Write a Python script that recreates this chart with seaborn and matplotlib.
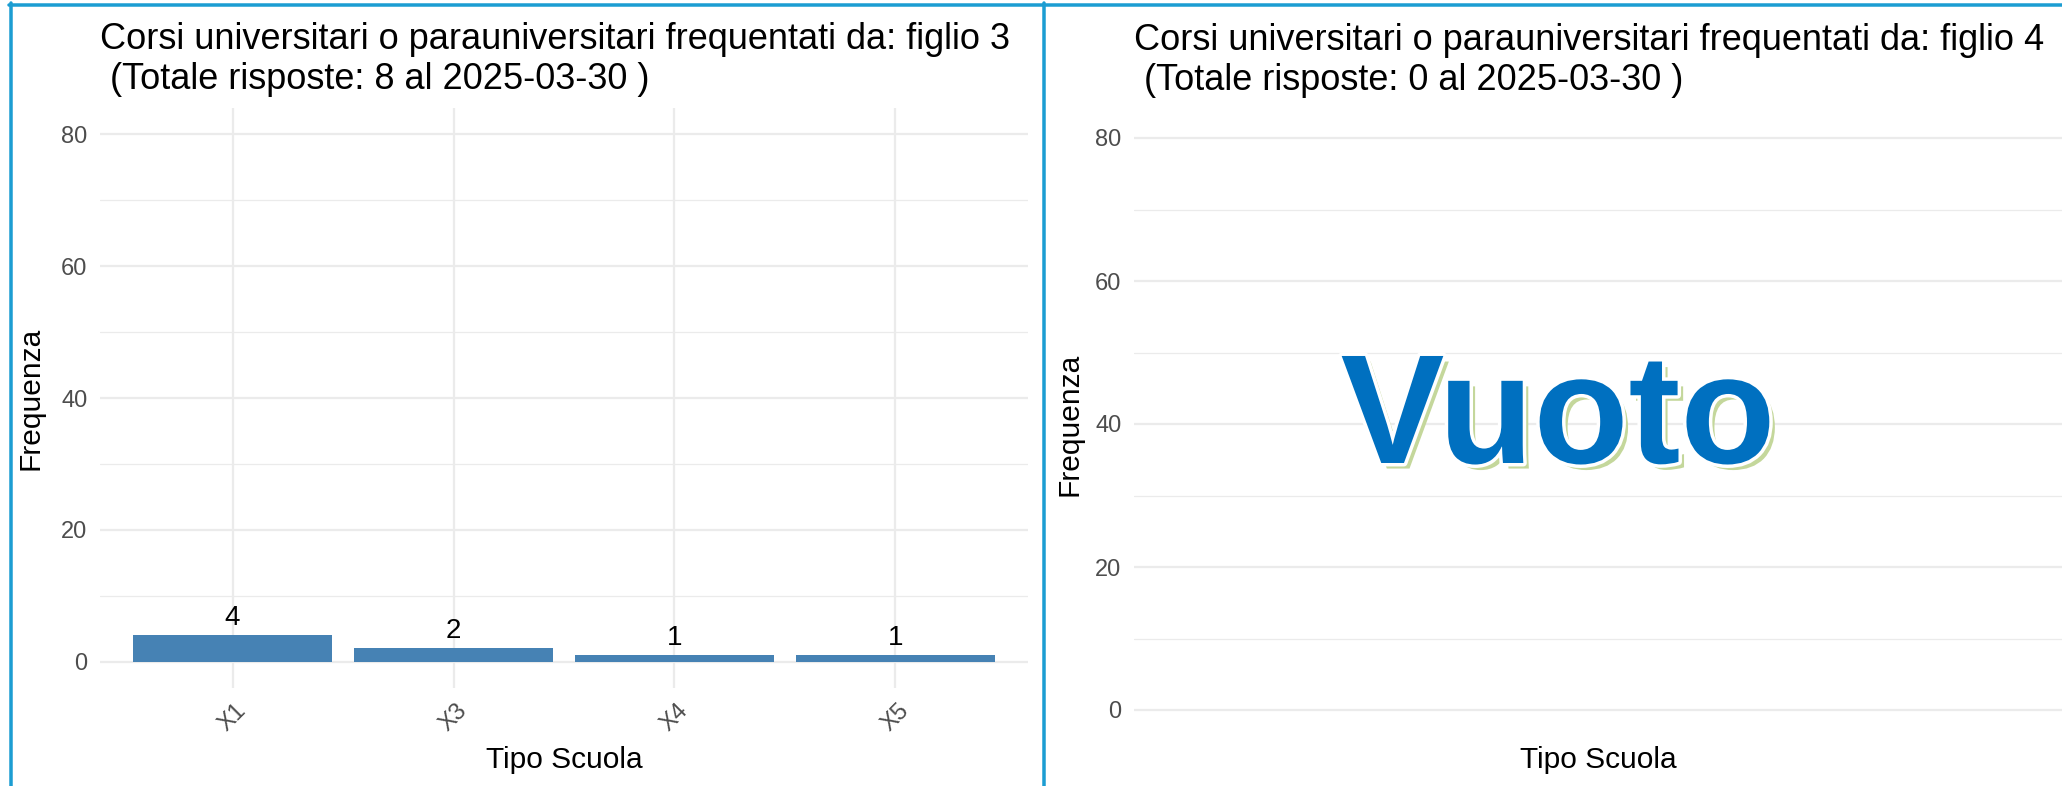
import matplotlib
matplotlib.use('Agg')
import matplotlib.pyplot as plt
import matplotlib.patheffects as pe
from matplotlib.lines import Line2D
from matplotlib.ticker import FixedLocator, MultipleLocator
import seaborn as sns
import pandas as pd

# ---- data ----
categories = ['X1', 'X3', 'X4', 'X5']
counts = [4, 2, 1, 1]
y_ticks = [0, 20, 40, 60, 80]
title_left = "Corsi universitari o parauniversitari frequentati da: figlio 3\n (Totale risposte: 8 al 2025-03-30 )"
title_right = "Corsi universitari o parauniversitari frequentati da: figlio 4\n (Totale risposte: 0 al 2025-03-30 )"
x_label = "Tipo Scuola"
y_label = "Frequenza"
empty_text = "Vuoto"

sns.set_theme(style='white')
plt.rcParams['font.family'] = ['Liberation Sans', 'DejaVu Sans']

W, H = 2062, 786
fig = plt.figure(figsize=(W / 100, H / 100), dpi=100)
fig.patch.set_facecolor('white')


def px_axes(x0, x1, ytop, ybot):
    return fig.add_axes([x0 / W, 1 - ybot / H, (x1 - x0) / W, (ybot - ytop) / H])


axL = px_axes(100, 1028, 108, 688)
axR = px_axes(1134, 2062, 109.4, 738.6)

GRID = '#EBEBEB'
TICK = '#4D4D4D'


def style(ax):
    ax.set_facecolor('white')
    ax.set_ylim(-4, 84)
    ax.yaxis.set_major_locator(FixedLocator(y_ticks))
    ax.yaxis.set_minor_locator(MultipleLocator(10))
    ax.grid(which='major', axis='y', color=GRID, lw=1.6)
    ax.grid(which='minor', axis='y', color=GRID, lw=0.9)
    for s in ax.spines.values():
        s.set_visible(False)
    ax.tick_params(axis='both', which='both', length=0)
    ax.tick_params(axis='y', labelsize=17, labelcolor=TICK, pad=9)
    ax.set_axisbelow(True)


# ---- left panel ----
df = pd.DataFrame({x_label: categories, y_label: counts})
sns.barplot(data=df, x=x_label, y=y_label, order=categories, color='#4682B4',
            saturation=1, width=0.9, linewidth=0, ax=axL)
style(axL)
axL.set_xlim(-0.6, len(categories) - 0.4)
axL.grid(which='major', axis='x', color=GRID, lw=1.6)
axL.tick_params(axis='x', labelsize=17, labelcolor=TICK, pad=8)
plt.setp(axL.get_xticklabels(), rotation=45, ha='center')
axL.bar_label(axL.containers[0], labels=[str(v) for v in counts], padding=3,
              fontsize=20, color='black')
axL.set_title(title_left, loc='left', fontsize=26, pad=13.7, color='black')
axL.set_xlabel(x_label, fontsize=21.5, color='black')
axL.set_ylabel(y_label, fontsize=21.5, color='black')
axL.xaxis.set_label_coords(0.5, (688 - 760) / 580)
axL.xaxis.label.set_va('center')
axL.yaxis.set_label_coords((30.5 - 100) / 928, 0.5)
axL.yaxis.label.set_va('center')

# ---- right panel (empty) ----
style(axR)
axR.set_xlim(0, 1)
axR.set_xticks([])
axR.set_title(title_right, loc='left', fontsize=26, pad=13.7, color='black')
axR.set_xlabel(x_label, fontsize=21.5, color='black')
axR.set_ylabel(y_label, fontsize=21.5, color='black')
axR.xaxis.set_label_coords(0.5, (738.6 - 760) / 629.2)
axR.xaxis.label.set_va('center')
axR.yaxis.set_label_coords((1069.5 - 1134) / 928, 0.5)
axR.yaxis.label.set_va('center')

fig.text(1558 / W, 1 - 463 / H, empty_text, ha='center', va='baseline',
         fontsize=112, fontweight='bold', color='#0070C0',
         family=['Liberation Sans', 'DejaVu Sans'],
         path_effects=[pe.SimplePatchShadow(offset=(4, -4), shadow_rgbFace='#C4D79B', alpha=1.0),
                       pe.Stroke(linewidth=5, foreground='white'),
                       pe.Normal()])

# ---- dashboard frame lines ----
BC = '#1C9DD2'
blw = 3.5 * 72 / 100
fig.add_artist(Line2D([10.5 / W, 10.5 / W], [0, 1 - 3 / H], transform=fig.transFigure, color=BC, lw=blw))
fig.add_artist(Line2D([1043.5 / W, 1043.5 / W], [0, 1 - 3 / H], transform=fig.transFigure, color=BC, lw=blw))
fig.add_artist(Line2D([9 / W, 1.0], [1 - 4.5 / H, 1 - 4.5 / H], transform=fig.transFigure, color=BC, lw=blw))

fig.savefig('out.png', dpi=100, facecolor='white')
